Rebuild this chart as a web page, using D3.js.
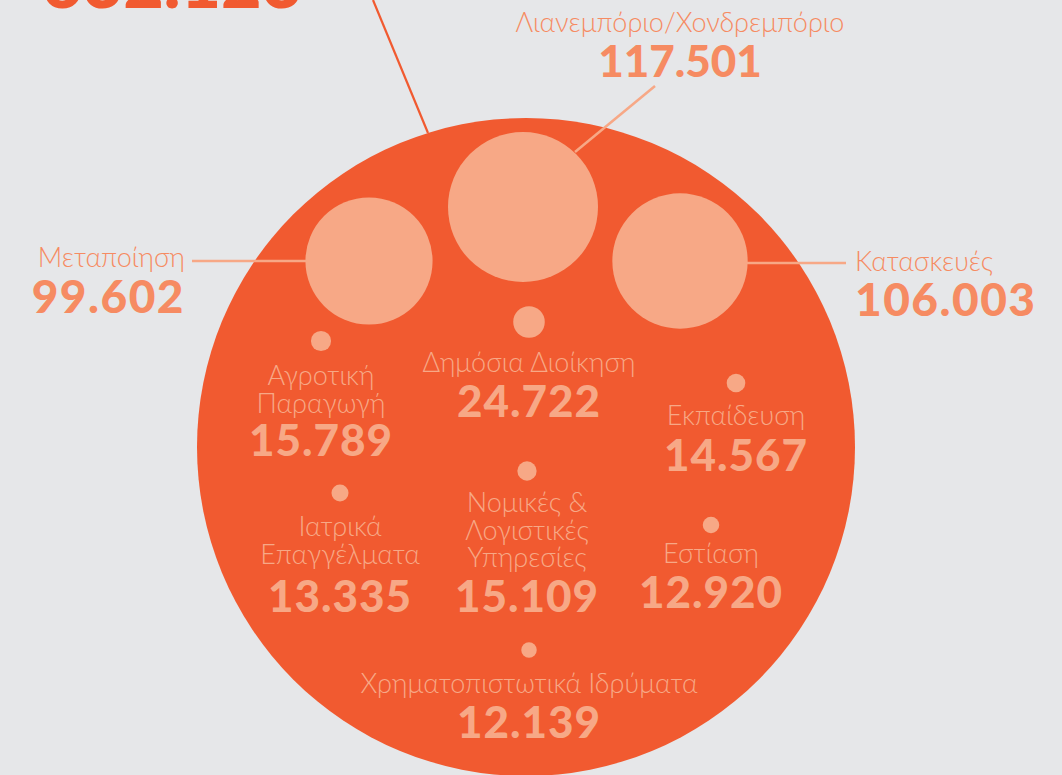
<!DOCTYPE html>
<html><head><meta charset="utf-8">
<script src="https://cdn.jsdelivr.net/npm/d3@7"></script>
<style>
html,body{margin:0;padding:0;background:#e6e7e9;}
svg{display:block;}
</style></head>
<body>
<svg id="chart" width="1062" height="775"></svg>
<script>
// ---- data ----
const totalLabel = "632.123";
const categories = ["Λιανεμπόριο/Χονδρεμπόριο","Κατασκευές","Μεταποίηση","Δημόσια Διοίκηση","Αγροτική Παραγωγή","Εκπαίδευση","Νομικές & Λογιστικές Υπηρεσίες","Ιατρικά Επαγγέλματα","Εστίαση","Χρηματοπιστωτικά Ιδρύματα"];
const labelLines = [["Λιανεμπόριο/Χονδρεμπόριο"],["Κατασκευές"],["Μεταποίηση"],["Δημόσια Διοίκηση"],["Αγροτική","Παραγωγή"],["Εκπαίδευση"],["Νομικές &","Λογιστικές","Υπηρεσίες"],["Ιατρικά","Επαγγέλματα"],["Εστίαση"],["Χρηματοπιστωτικά Ιδρύματα"]];
const values = [117501,106003,99602,24722,15789,14567,15109,13335,12920,12139];

// ---- layout (positions of bubbles, not data) ----
const layout = [
  {cx:523, cy:207, outside:true, lx:680, ly:32, va:77, anchor:"middle", leader:[[655,86],[575,152]]},
  {cx:680, cy:261, outside:true, lx:855, ly:271, va:316, anchor:"start", leader:[[746,263],[846,263]]},
  {cx:369, cy:261, outside:true, lx:185, ly:267, va:313, anchor:"end", leader:[[192,261],[308,261]]},
  {cx:529, cy:322, lx:529, ly:372, va:417},
  {cx:321, cy:341, lx:321, ly:385, va:456},
  {cx:736, cy:383, lx:736, ly:425, va:471},
  {cx:527, cy:471, lx:527, ly:512, va:612},
  {cx:340, cy:493, lx:340, ly:536, va:612},
  {cx:711, cy:525, lx:711, ly:563, va:608},
  {cx:529, cy:650, lx:529, ly:693, va:738}
];

const svg = d3.select("#chart");
const W = 1062, H = 775;
svg.append("rect").attr("width",W).attr("height",H).attr("fill","#e6e7e9");

const dark = "#f15a30", light = "#f7a886", outer = "#f68b62";
const r = d3.scaleLinear().domain([0, values[0]]).range([0, 75]);
const fmt = v => d3.format(",")(v).replace(/,/g,".");

// total
svg.append("line").attr("x1",373).attr("y1",0).attr("x2",428).attr("y2",133)
  .attr("stroke",dark).attr("stroke-width",2.2);
svg.append("text").attr("x",42).attr("y",8).text(totalLabel)
  .attr("font-family","Lato").attr("font-weight",900).attr("font-size",70).attr("fill",dark);

// big circle
svg.append("circle").attr("cx",526).attr("cy",447).attr("r",329).attr("fill",dark);

const data = categories.map((c,i)=>({name:c, lines:labelLines[i], value:values[i], ...layout[i]}));

// leaders
svg.selectAll("line.leader").data(data.filter(d=>d.leader)).join("line")
  .attr("class","leader")
  .attr("x1",d=>d.leader[0][0]).attr("y1",d=>d.leader[0][1])
  .attr("x2",d=>d.leader[1][0]).attr("y2",d=>d.leader[1][1])
  .attr("stroke",light).attr("stroke-width",2.5);

// bubbles
svg.selectAll("circle.b").data(data).join("circle").attr("class","b")
  .attr("cx",d=>d.cx).attr("cy",d=>d.cy).attr("r",d=>r(d.value)).attr("fill",light);

// labels
const g = svg.selectAll("g.lab").data(data).join("g").attr("class","lab");
g.each(function(d){
  const sel = d3.select(this);
  const col = d.outside ? outer : light;
  const anchor = d.anchor || "middle";
  d.lines.forEach((ln,k)=>{
    sel.append("text").attr("x",d.lx).attr("y",d.ly + k*27.5)
      .attr("text-anchor",anchor).attr("font-family","Lato").attr("font-weight",300)
      .attr("font-size", 27).attr("fill",col).text(ln);
  });
  const big = d.value > 50000;
  sel.append("text").attr("x",d.lx).attr("y",d.va).attr("text-anchor",anchor)
    .attr("font-family","Lato").attr("font-weight",900)
    .attr("font-size", d.outside ? (d.value===117501?44:46) : 44).attr("fill",col)
    .attr("letter-spacing", d.outside ? (d.value===117501?0:1.5) : 1)
    .text(fmt(d.value));
});
</script>
</body></html>
